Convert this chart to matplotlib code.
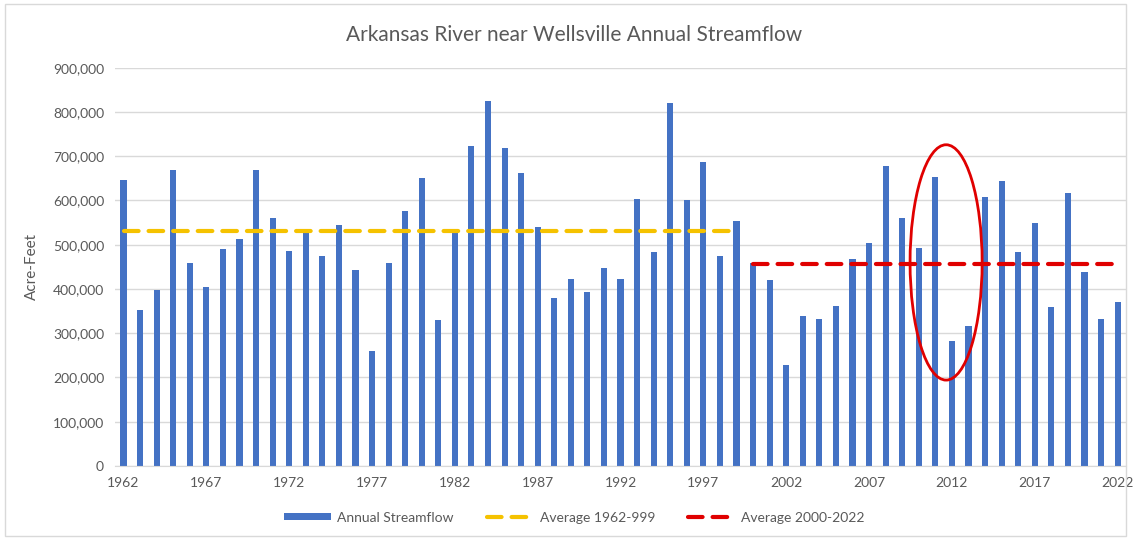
import numpy as np
import matplotlib.pyplot as plt
from matplotlib.patches import Ellipse, Rectangle

plt.rcParams['font.family'] = ['Liberation Sans Narrow', 'Lato', 'DejaVu Sans']

# annual streamflow, acre-feet
years = list(range(1962, 2023))
flow = [647000, 352000, 398000, 668000, 459000, 405000, 491000, 512000, 668000, 561000,
        486000, 529000, 475000, 544000, 442000, 259000, 459000, 577000, 650000, 329000,
        534000, 723000, 824000, 719000, 663000, 540000, 380000, 423000, 393000, 447000,
        423000, 603000, 484000, 821000, 600000, 687000, 475000, 554000, 459000, 420000,
        229000, 338000, 333000, 361000, 468000, 505000, 677000, 561000, 492000, 654000,
        282000, 317000, 608000, 645000, 484000, 550000, 359000, 617000, 438000, 331000,
        371000]
avg_early = 531000   # 1962-1999
avg_late = 457000    # 2000-2022

grey = '#595959'
x = np.arange(len(years))

fig = plt.figure(figsize=(11.33, 5.38), dpi=100)
ax = fig.add_axes([0.1017, 0.134, 0.8920, 0.740])

bars = ax.bar(x, flow, width=0.37, color='#4472C4', label='Annual Streamflow', zorder=2)

i99 = years.index(1999)
l1, = ax.plot([0, i99], [avg_early, avg_early], color='#F5C200', lw=3, dashes=(3.5, 2.4),
              dash_capstyle='round', label='Average 1962-999', zorder=3)
l2, = ax.plot([i99 + 1, len(years) - 1], [avg_late, avg_late], color='#E00000', lw=3,
              dashes=(3.5, 2.4), dash_capstyle='round', label='Average 2000-2022', zorder=3)

# highlight ellipse around 2011-2012
ax.add_patch(Ellipse((years.index(2011) + 0.65, 460000), 4.35, 532000, fill=False,
                     edgecolor='#E00000', lw=2, zorder=4))

ax.set_xlim(-0.5, len(years) - 0.5)
ax.set_ylim(0, 900000)
ax.set_yticks(np.arange(0, 900001, 100000))
ax.set_yticklabels([f'{v:,}' for v in range(0, 900001, 100000)])
ax.set_xticks(x[::5])
ax.set_xticklabels([str(y) for y in years[::5]])
ax.tick_params(axis='both', length=0, labelsize=10, labelcolor=grey, pad=8)
ax.grid(axis='y', color='#D9D9D9', lw=1, zorder=0)
ax.set_axisbelow(True)
for s in ['top', 'right', 'left']:
    ax.spines[s].set_visible(False)
ax.spines['bottom'].set_color('#D9D9D9')

ax.set_ylabel('Acre-Feet', fontsize=11, color=grey, labelpad=10)
fig.text(0.507, 0.935, 'Arkansas River near Wellsville Annual Streamflow',
         ha='center', va='center', fontsize=15, color=grey)

leg = fig.legend([bars, l1, l2], ['Annual Streamflow', 'Average 1962-999', 'Average 2000-2022'],
                 loc='center', bbox_to_anchor=(0.507, 0.038), ncol=3, frameon=False,
                 fontsize=10, labelcolor=grey, handlelength=3.4, handleheight=0.45,
                 columnspacing=2.4, handletextpad=0.4)

fig.add_artist(Rectangle((0.004, 0.004), 0.99, 0.988, transform=fig.transFigure,
                         fill=False, edgecolor='#D9D9D9', lw=1))

fig.savefig('out.png', dpi=100)
